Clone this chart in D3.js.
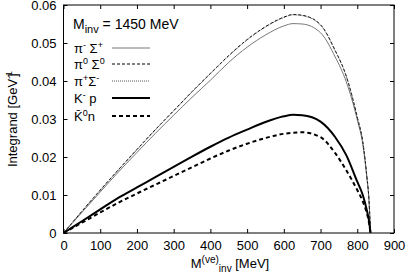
<!DOCTYPE html>
<html>
<head>
<meta charset="utf-8">
<script src="https://cdn.jsdelivr.net/npm/d3@7"></script>
<style>
  body { margin: 0; background: #fff; }
  text { font-family: "Liberation Sans", Arial, sans-serif; fill: #000; }
</style>
</head>
<body>
<div id="chart"></div>
<script>
const mInv = [0, 50, 100, 150, 200, 250, 300, 350, 400, 450, 500, 550, 600, 625, 650, 700, 740, 770, 800, 815, 826, 832, 836];

const piMinusSigmaPlus = [0, 0.0054, 0.0108, 0.0161, 0.0212, 0.0262, 0.0310, 0.0357, 0.0402, 0.0449, 0.0489, 0.0521, 0.0545, 0.0551, 0.0550, 0.0527, 0.0463, 0.0398, 0.0298, 0.0233, 0.0146, 0.0083, 0];
const piZeroSigmaZero = [0, 0.0057, 0.0113, 0.0167, 0.0220, 0.0272, 0.0322, 0.0372, 0.0420, 0.0467, 0.0509, 0.0543, 0.0568, 0.0575, 0.0573, 0.0548, 0.0480, 0.0413, 0.0305, 0.0240, 0.0150, 0.0085, 0];
const piPlusSigmaMinus = [0, 0.0057, 0.0112, 0.0166, 0.0219, 0.0271, 0.0321, 0.0371, 0.0419, 0.0466, 0.0508, 0.0542, 0.0567, 0.0574, 0.0572, 0.0547, 0.0479, 0.0412, 0.0304, 0.0239, 0.0149, 0.0084, 0];
const kMinusP = [0, 0.0031, 0.0062, 0.0093, 0.0120, 0.0147, 0.0174, 0.0201, 0.0227, 0.0251, 0.0272, 0.0292, 0.0307, 0.0311, 0.0310, 0.0293, 0.0252, 0.0205, 0.0135, 0.0100, 0.0060, 0.0032, 0];
const kBarZeroN = [0, 0.0027, 0.0054, 0.0080, 0.0104, 0.0127, 0.0150, 0.0173, 0.0196, 0.0217, 0.0235, 0.0250, 0.0261, 0.0264, 0.0265, 0.0252, 0.0210, 0.0165, 0.0113, 0.0083, 0.0052, 0.0027, 0];

const xTicks = [0, 100, 200, 300, 400, 500, 600, 700, 800, 900];
const yTicks = [0, 0.01, 0.02, 0.03, 0.04, 0.05, 0.06];

const series = [
  { label: ["π", "-", " Σ", "+"], values: piMinusSigmaPlus, color: "#777", width: 1, dash: null },
  { label: ["π", "0", " Σ", "0"], values: piZeroSigmaZero, color: "#000", width: 1, dash: "3,2" },
  { label: ["π", "+", "Σ", "-"], values: piPlusSigmaMinus, color: "#555", width: 1, dash: "1,1" },
  { label: ["K", "-", " p", ""], values: kMinusP, color: "#000", width: 2, dash: null },
  { label: ["K̄", "0", "n", ""], values: kBarZeroN, color: "#000", width: 2, dash: "4,3" },
];

const width = 409, height = 275;
const margin = { top: 5, right: 15, bottom: 42, left: 63.5 };

const svg = d3.select("#chart").append("svg")
  .attr("width", width)
  .attr("height", height);

const x = d3.scaleLinear().domain([0, 900]).range([margin.left, width - margin.right]);
const y = d3.scaleLinear().domain([0, 0.06]).range([height - margin.bottom, margin.top]);

// axes with inward ticks on all sides
svg.append("g")
  .attr("transform", `translate(0,${y(0)})`)
  .call(d3.axisBottom(x).tickValues(xTicks).tickSizeInner(-4).tickSizeOuter(0).tickPadding(8))
  .call(g => g.select(".domain").remove());
svg.append("g")
  .attr("transform", `translate(0,${y(0.06)})`)
  .call(d3.axisTop(x).tickValues(xTicks).tickSizeInner(-4).tickSizeOuter(0).tickFormat(""))
  .call(g => g.select(".domain").remove());
svg.append("g")
  .attr("transform", `translate(${x(0)},0)`)
  .call(d3.axisLeft(y).tickValues(yTicks).tickSizeInner(-4).tickSizeOuter(0).tickPadding(7)
    .tickFormat(d => d === 0 ? "0" : d3.format(".2f")(d)))
  .call(g => g.select(".domain").remove());
svg.append("g")
  .attr("transform", `translate(${x(900)},0)`)
  .call(d3.axisRight(y).tickValues(yTicks).tickSizeInner(-4).tickSizeOuter(0).tickFormat(""))
  .call(g => g.select(".domain").remove());

svg.selectAll(".tick text")
  .style("font-size", "13px")
  .style("font-family", "Liberation Sans, Arial, sans-serif");
svg.selectAll(".tick line").attr("stroke", "#000");

svg.append("rect")
  .attr("x", x(0)).attr("y", y(0.06))
  .attr("width", x(900) - x(0)).attr("height", y(0) - y(0.06))
  .attr("fill", "none").attr("stroke", "#000").attr("stroke-width", 1);

// curves
const line = d3.line()
  .x((d, i) => x(mInv[i]))
  .y(d => y(d))
  .curve(d3.curveMonotoneX);

svg.selectAll("path.curve")
  .data(series)
  .join("path")
  .attr("class", "curve")
  .attr("d", d => line(d.values))
  .attr("fill", "none")
  .attr("stroke", d => d.color)
  .attr("stroke-width", d => d.width)
  .attr("stroke-dasharray", d => d.dash);

// legend
const title = svg.append("text").attr("x", 73).attr("y", 29).style("font-size", "14px");
title.append("tspan").text("M");
title.append("tspan").attr("dy", 4).style("font-size", "11px").text("inv");
title.append("tspan").attr("dy", -4).text(" = 1450 MeV");

const rowY = [48, 64, 81, 98, 116];
series.forEach((s, i) => {
  const t = svg.append("text").attr("x", 74).attr("y", rowY[i] + 5).style("font-size", "13px");
  t.append("tspan").text(s.label[0]);
  t.append("tspan").attr("dy", -5).style("font-size", "9px").text(s.label[1]);
  t.append("tspan").attr("dy", 5).text(s.label[2]);
  t.append("tspan").attr("dy", -5).style("font-size", "9px").text(s.label[3]);
  svg.append("line")
    .attr("x1", 112).attr("x2", 150)
    .attr("y1", rowY[i]).attr("y2", rowY[i])
    .attr("stroke", s.color)
    .attr("stroke-width", s.width)
    .attr("stroke-dasharray", s.dash);
});

// axis titles
const xl = svg.append("text").attr("x", 230).attr("y", 268).attr("text-anchor", "middle").style("font-size", "13px");
xl.append("tspan").text("M");
xl.append("tspan").attr("dy", -5).style("font-size", "10px").text("(ve)");
xl.append("tspan").attr("dy", 9).style("font-size", "10px").text("inv");
xl.append("tspan").attr("dy", -4).text(" [MeV]");

const yl = svg.append("text")
  .attr("transform", `translate(17,${y(0.03)}) rotate(-90)`)
  .attr("text-anchor", "middle")
  .style("font-size", "13px");
yl.append("tspan").text("Integrand [GeV");
yl.append("tspan").attr("dy", -5).style("font-size", "9px").text("-1");
yl.append("tspan").attr("dy", 5).attr("dx", -6).text("]");
</script>
</body>
</html>
